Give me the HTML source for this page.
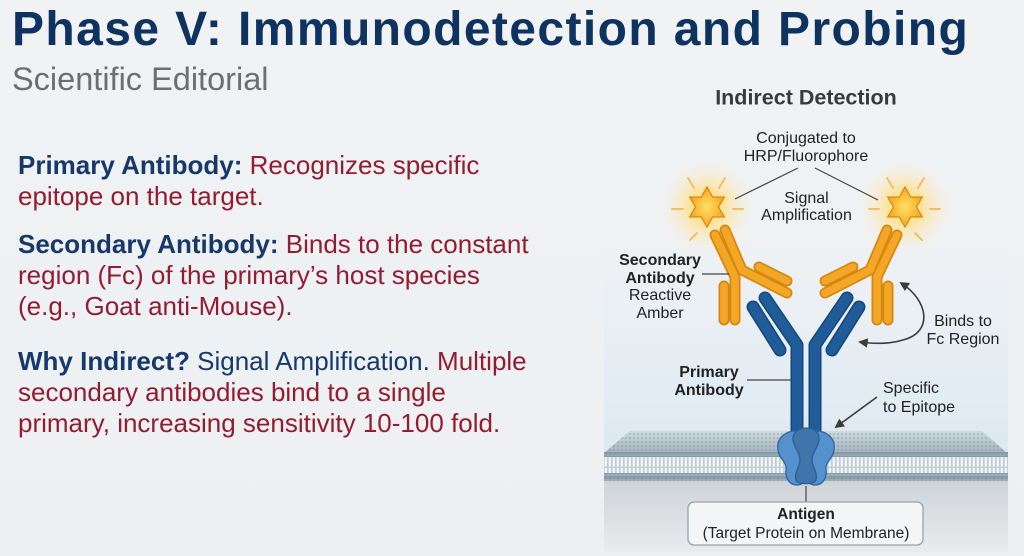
<!DOCTYPE html>
<html>
<head>
<meta charset="utf-8">
<style>
  html,body{margin:0;padding:0;}
  body{width:1024px;height:556px;overflow:hidden;position:relative;
    background:linear-gradient(180deg,#f0f2f4 0%,#edf0f2 100%);
    font-family:"Liberation Sans",Arial,sans-serif;}
  .title{position:absolute;left:12px;top:6px;font-size:48px;line-height:48px;font-weight:bold;color:#0e3361;white-space:nowrap;letter-spacing:1.4px;}
  .sub{position:absolute;left:12px;top:63px;font-size:32.5px;line-height:33px;color:#6c6f72;white-space:nowrap;}
  .p{position:absolute;left:18px;font-size:26px;line-height:31px;white-space:nowrap;color:#931c33;}
  .p b{color:#16396a;}
  .n{color:#16396a;}
  svg{position:absolute;left:0;top:0;}
</style>
</head>
<body>
<div class="title">Phase V: Immunodetection and Probing</div>
<div class="sub">Scientific Editorial</div>

<div class="p" style="top:150px;"><b>Primary Antibody:</b> Recognizes specific<br>epitope on the target.</div>
<div class="p" style="top:229px;"><b>Secondary Antibody:</b> Binds to the constant<br>region (Fc) of the primary’s host species<br>(e.g., Goat anti-Mouse).</div>
<div class="p" style="top:346px;"><b>Why Indirect?</b> <span class="n">Signal Amplification.</span> Multiple<br>secondary antibodies bind to a single<br>primary, increasing sensitivity 10-100 fold.</div>

<svg width="1024" height="556" viewBox="0 0 1024 556" xmlns="http://www.w3.org/2000/svg">
  <defs>
    <linearGradient id="panelTop" x1="0" y1="0" x2="0" y2="1">
      <stop offset="0" stop-color="#edf1f4" stop-opacity="0"/>
      <stop offset="0.5" stop-color="#e6eef4"/>
      <stop offset="1" stop-color="#dce9f2"/>
    </linearGradient>
    <linearGradient id="panelBot" x1="0" y1="0" x2="0" y2="1">
      <stop offset="0" stop-color="#cfd3d7"/>
      <stop offset="1" stop-color="#e9ebed"/>
    </linearGradient>
    <linearGradient id="slab" x1="0" y1="0" x2="0" y2="1">
      <stop offset="0" stop-color="#d3dce2"/>
      <stop offset="1" stop-color="#a3b3be"/>
    </linearGradient>
    <pattern id="dots" width="4" height="4" patternUnits="userSpaceOnUse">
      <circle cx="2" cy="2" r="1.3" fill="#6f8594" fill-opacity="0.3"/>
    </pattern>
    <pattern id="heads" width="4" height="5" patternUnits="userSpaceOnUse">
      <circle cx="2" cy="2.5" r="2" fill="#8599a7"/>
    </pattern>
    <pattern id="tails" width="4" height="17" patternUnits="userSpaceOnUse">
      <rect x="0.8" y="0" width="2" height="7.5" fill="#ffffff" fill-opacity="0.9"/>
      <rect x="0.8" y="9" width="2" height="8" fill="#ffffff" fill-opacity="0.9"/>
    </pattern>
    <radialGradient id="glow" cx="0.5" cy="0.5" r="0.5">
      <stop offset="0" stop-color="#fff4c0" stop-opacity="1"/>
      <stop offset="0.35" stop-color="#ffe08a" stop-opacity="0.85"/>
      <stop offset="0.7" stop-color="#fde7b4" stop-opacity="0.35"/>
      <stop offset="1" stop-color="#fdf0d8" stop-opacity="0"/>
    </radialGradient>
    <radialGradient id="starFill" cx="0.5" cy="0.5" r="0.5">
      <stop offset="0" stop-color="#ffe066"/>
      <stop offset="1" stop-color="#f5a623"/>
    </radialGradient>
    <marker id="ah" viewBox="0 0 10 10" refX="8" refY="5" markerWidth="6" markerHeight="6" orient="auto-start-reverse">
      <path d="M0,0 L10,5 L0,10 z" fill="#3c3c3c"/>
    </marker>
  </defs>

  <!-- panel backgrounds -->
  <rect x="604" y="240" width="404" height="216" fill="url(#panelTop)"/>
  <rect x="604" y="480" width="404" height="72" fill="url(#panelBot)"/>

  <!-- membrane -->
  <polygon points="630,431 982,431 1007,453 604,453" fill="url(#slab)"/>
  <polygon points="630,431 982,431 1007,453 604,453" fill="url(#dots)"/>
  <rect x="604" y="452" width="404" height="5" fill="#9aabb6"/>
  <rect x="604" y="452" width="404" height="5" fill="url(#heads)"/>
  <rect x="604" y="457" width="404" height="16" fill="#c0cdd5"/>
  <rect x="604" y="457" width="404" height="16" fill="url(#tails)"/>
  <rect x="604" y="473" width="404" height="8" fill="#a2b2bd"/>
  <rect x="604" y="473" width="404" height="8" fill="url(#heads)"/>

  <!-- glows -->
  <circle cx="707" cy="207" r="48" fill="url(#glow)"/>
  <circle cx="905" cy="207" r="48" fill="url(#glow)"/>

  <!-- rays -->
  <g stroke="#f3be6a" stroke-width="2" stroke-linecap="round">
    <line x1="672" y1="209" x2="683" y2="209"/>
    <line x1="733" y1="209" x2="743" y2="209"/>
    <line x1="688" y1="178" x2="694" y2="188"/>
    <line x1="725" y1="178" x2="719" y2="188"/>
    <line x1="690" y1="240" x2="697" y2="233"/>
    <line x1="869" y1="209" x2="879" y2="209"/>
    <line x1="930" y1="209" x2="940" y2="209"/>
    <line x1="887" y1="178" x2="893" y2="188"/>
    <line x1="924" y1="178" x2="918" y2="188"/>
    <line x1="922" y1="240" x2="915" y2="233"/>
  </g>

  <!-- secondary antibodies (orange) -->
  <g fill="none" stroke-linecap="round" stroke-linejoin="round">
    <g stroke="#d4880f" stroke-width="11">
      <polyline points="715,235 735,277 735,320"/>
      <polyline points="725,230 742,270 787,293"/>
      <line x1="724" y1="286" x2="724" y2="320"/>
      <line x1="759" y1="267" x2="787" y2="281"/>
      <polyline points="897,235 877,277 877,320"/>
      <polyline points="887,230 870,270 825,293"/>
      <line x1="888" y1="286" x2="888" y2="320"/>
      <line x1="853" y1="267" x2="825" y2="281"/>
    </g>
    <g stroke="#f4a726" stroke-width="7.5">
      <polyline points="715,235 735,277 735,320"/>
      <polyline points="725,230 742,270 787,293"/>
      <line x1="724" y1="286" x2="724" y2="320"/>
      <line x1="759" y1="267" x2="787" y2="281"/>
      <polyline points="897,235 877,277 877,320"/>
      <polyline points="887,230 870,270 825,293"/>
      <line x1="888" y1="286" x2="888" y2="320"/>
      <line x1="853" y1="267" x2="825" y2="281"/>
    </g>
  </g>

  <!-- stars -->
  <g stroke="#e08a12" stroke-width="1.3" fill="url(#starFill)" stroke-linejoin="miter">
    <path transform="translate(707,207)" d="M0,-20 L5.75,-9.96 L17.32,-10 L11.5,0 L17.32,10 L5.75,9.96 L0,20 L-5.75,9.96 L-17.32,10 L-11.5,0 L-17.32,-10 L-5.75,-9.96 Z"/>
    <path transform="translate(905,207)" d="M0,-20 L5.75,-9.96 L17.32,-10 L11.5,0 L17.32,10 L5.75,9.96 L0,20 L-5.75,9.96 L-17.32,10 L-11.5,0 L-17.32,-10 L-5.75,-9.96 Z"/>
  </g>

  <!-- primary antibody (blue) -->
  <g fill="none" stroke-linecap="round" stroke-linejoin="round">
    <g stroke="#15457a" stroke-width="13">
      <polyline points="765,298 797,345 797,432"/>
      <line x1="753" y1="307" x2="780" y2="350"/>
      <polyline points="847,298 815,345 815,432"/>
      <line x1="859" y1="307" x2="832" y2="350"/>
    </g>
    <g stroke="#1f5c99" stroke-width="10">
      <polyline points="765,298 797,345 797,432"/>
      <line x1="753" y1="307" x2="780" y2="350"/>
      <polyline points="847,298 815,345 815,432"/>
      <line x1="859" y1="307" x2="832" y2="350"/>
    </g>
  </g>

  <!-- antigen protein -->
  <g stroke-width="1.3" stroke-linejoin="round">
    <path d="M798,431 C785,430 776,439 778,450 C779,459 787,462 786,469 C785,476 788,485 797,485 C805,485 807,477 806,469 L806,440 C806,434 803,431 798,431 Z" fill="#5590cf" stroke="#2f66a0"/>
    <path d="M814,431 C827,430 836,439 834,450 C833,459 825,462 826,469 C827,476 824,485 815,485 C807,485 805,477 806,469 L806,440 C806,434 809,431 814,431 Z" fill="#5590cf" stroke="#2f66a0"/>
    <path d="M806,428 C813,428 820,432 819,440 C818,448 812,452 812,460 C812,467 818,472 816,480 C814,485 798,485 796,480 C794,472 800,467 800,460 C800,452 794,448 793,440 C792,432 799,428 806,428 Z" fill="#3f75aa" stroke="#2d5e90"/>
  </g>

  <!-- leader lines -->
  <g stroke="#444" stroke-width="1.2" fill="none">
    <line x1="798" y1="168" x2="735" y2="199"/>
    <line x1="815" y1="168" x2="878" y2="200"/>
    <line x1="702" y1="274" x2="729" y2="274"/>
    <line x1="747" y1="380" x2="792" y2="380"/>
    <line x1="806" y1="486" x2="806" y2="502"/>
  </g>
  <g stroke="#3c3c3c" stroke-width="1.6" fill="none">
    <path d="M901,283 C928,300 934,332 903,340 C890,344 875,344 860,342" marker-start="url(#ah)" marker-end="url(#ah)"/>
    <line x1="877" y1="397" x2="836" y2="427" marker-end="url(#ah)"/>
  </g>

  <!-- antigen box -->
  <rect x="688" y="502" width="235" height="43" rx="6" fill="#f3f5f7" stroke="#96a3ad" stroke-width="1.3"/>

  <!-- labels -->
  <g font-family="Liberation Sans, Arial, sans-serif" fill="#222">
    <text x="806" y="104.5" font-size="21.5" font-weight="bold" text-anchor="middle" fill="#3a3a3a">Indirect Detection</text>
    <text x="806" y="143" font-size="16" text-anchor="middle">Conjugated to</text>
    <text x="806" y="161" font-size="16" text-anchor="middle">HRP/Fluorophore</text>
    <text x="806.5" y="203" font-size="16" text-anchor="middle">Signal</text>
    <text x="806.5" y="220" font-size="16" text-anchor="middle">Amplification</text>
    <text x="660" y="265" font-size="16" font-weight="bold" text-anchor="middle">Secondary</text>
    <text x="660" y="283" font-size="16" font-weight="bold" text-anchor="middle">Antibody</text>
    <text x="660" y="300" font-size="16" text-anchor="middle">Reactive</text>
    <text x="660" y="318" font-size="16" text-anchor="middle">Amber</text>
    <text x="963" y="326" font-size="16" text-anchor="middle">Binds to</text>
    <text x="963" y="344" font-size="16" text-anchor="middle">Fc Region</text>
    <text x="709" y="377" font-size="16" font-weight="bold" text-anchor="middle">Primary</text>
    <text x="709" y="395" font-size="16" font-weight="bold" text-anchor="middle">Antibody</text>
    <text x="883" y="393" font-size="16">Specific</text>
    <text x="883" y="412" font-size="16">to Epitope</text>
    <text x="806" y="519" font-size="15.5" font-weight="bold" text-anchor="middle">Antigen</text>
    <text x="806" y="538" font-size="15.5" text-anchor="middle">(Target Protein on Membrane)</text>
  </g>
</svg>
</body>
</html>
